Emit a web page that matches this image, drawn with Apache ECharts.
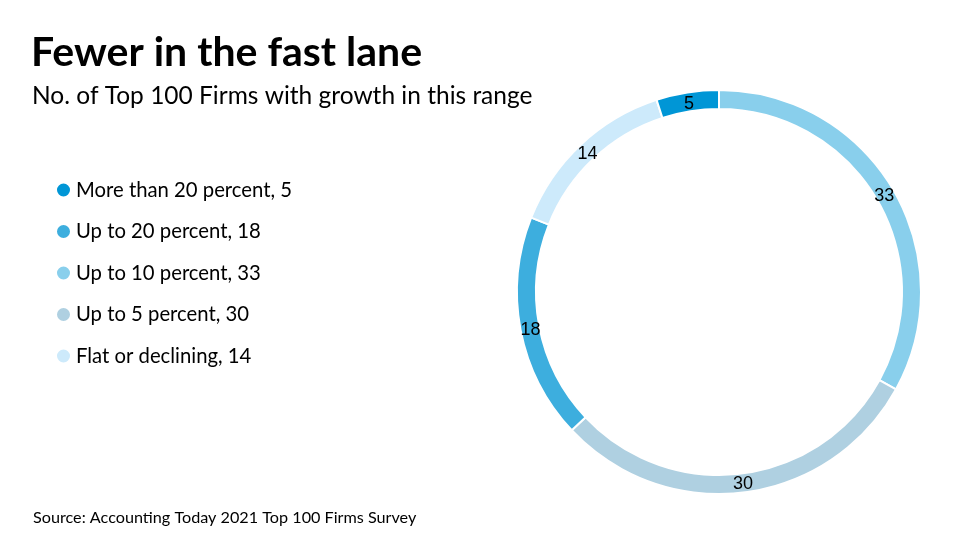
<!DOCTYPE html>
<html>
<head>
<meta charset="utf-8">
<script src="https://cdn.jsdelivr.net/npm/echarts@6/dist/echarts.min.js"></script>
<style>html,body{margin:0;padding:0;background:#fff;}#c{width:978px;height:550px;}</style>
</head>
<body>
<div id="c"></div>
<script>
// Data (ring order, clockwise from 12 o'clock)
const categories = ["Up to 10 percent", "Up to 5 percent", "Up to 20 percent", "Flat or declining", "More than 20 percent"];
const values = [33, 30, 18, 14, 5];
const colors = ["#89cfec", "#afd0e1", "#3daede", "#cdeafb", "#0096d6"];
// Legend order
const legendOrder = ["More than 20 percent", "Up to 20 percent", "Up to 10 percent", "Up to 5 percent", "Flat or declining"];
const titleText = "Fewer in the fast lane";
const subtitleText = "No. of Top 100 Firms with growth in this range";
const sourceText = "Source: Accounting Today 2021 Top 100 Firms Survey";

const valueOf = {};
categories.forEach((c, i) => valueOf[c] = values[i]);

const chart = echarts.init(document.getElementById('c'));
chart.setOption({
  animation: false,
  backgroundColor: '#fff',
  title: [
    { text: titleText, left: 26, top: 27, textStyle: { fontFamily: 'Lato', fontWeight: 'bold', fontSize: 41, color: '#000' } },
    { text: subtitleText, left: 27, top: 79, textStyle: { fontFamily: 'Lato', fontWeight: 'normal', fontSize: 24.5, color: '#000' } },
    { text: sourceText, left: 28, top: 505, textStyle: { fontFamily: 'Lato', fontWeight: 'normal', fontSize: 16.2, color: '#000' } }
  ],
  legend: {
    orient: 'vertical',
    left: 50,
    top: 174,
    data: legendOrder,
    icon: 'circle',
    itemWidth: 15,
    itemHeight: 15,
    itemGap: 19.5,
    formatter: name => name + ', ' + valueOf[name],
    textStyle: { fontFamily: 'Lato', fontSize: 20.3, color: '#000', lineHeight: 22 },
    selectedMode: false
  },
  series: [{
    type: 'pie',
    center: [719, 292],
    radius: [183, 202],
    startAngle: 90,
    clockwise: true,
    avoidLabelOverlap: false,
    label: { show: false },
    labelLine: { show: false },
    itemStyle: { borderColor: '#fff', borderWidth: 2 },
    data: categories.map((c, i) => ({ name: c, value: values[i], itemStyle: { color: colors[i] } }))
  }, {
    type: 'pie',
    center: [719, 292],
    radius: [176, 202],
    startAngle: 90,
    clockwise: true,
    silent: true,
    avoidLabelOverlap: false,
    z: 3,
    label: { show: true, position: 'inside', formatter: '{c}', fontFamily: 'Liberation Sans, Arial', fontSize: 18, color: '#000', offset: [0, 2] },
    labelLine: { show: false },
    itemStyle: { color: 'rgba(0,0,0,0)', borderWidth: 0 },
    emphasis: { disabled: true },
    data: categories.map((c, i) => ({ name: c, value: values[i] }))
  }]
});
</script>
</body>
</html>
